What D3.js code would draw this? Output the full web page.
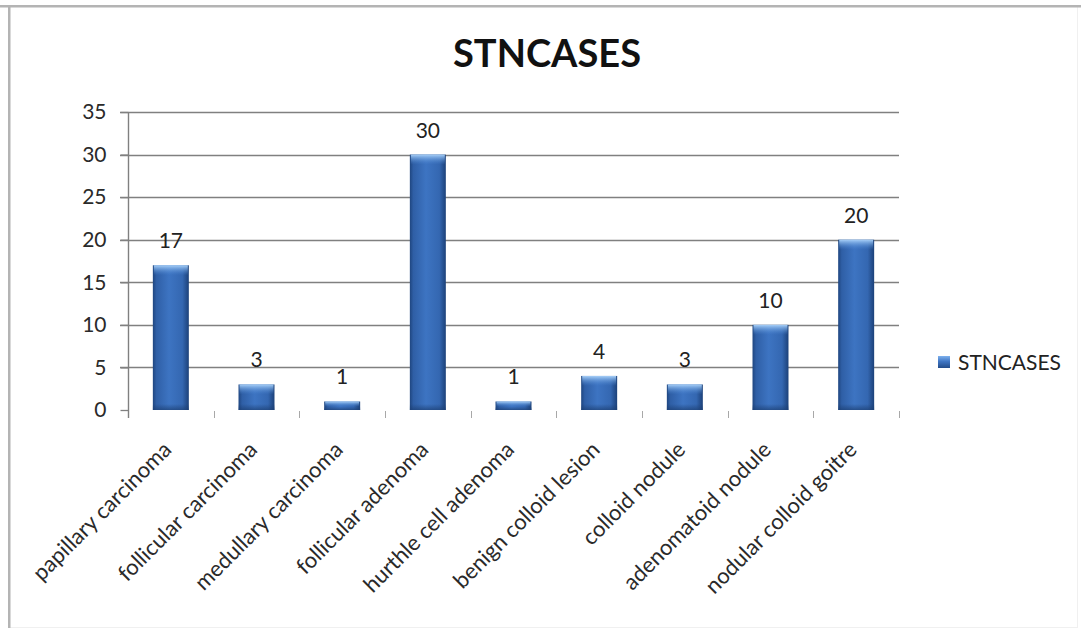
<!DOCTYPE html>
<html>
<head>
<meta charset="utf-8">
<script src="https://cdn.jsdelivr.net/npm/d3@7"></script>
<style>
  html, body { margin: 0; padding: 0; background: #fff; }
  svg { display: block; }
  text { font-family: Lato, "Noto Sans", "Liberation Sans", sans-serif; }
</style>
</head>
<body>
<svg id="chart" width="1081" height="635"></svg>
<script>
// Thyroid lesion case counts
const categories = [
  "papillary carcinoma", "follicular carcinoma", "medullary carcinoma",
  "follicular adenoma", "hurthle cell adenoma", "benign colloid lesion",
  "colloid nodule", "adenomatoid nodule", "nodular colloid goitre"
];
const values = [17, 3, 1, 30, 1, 4, 3, 10, 20];
const yTicks = [0, 5, 10, 15, 20, 25, 30, 35];
const seriesName = "STNCASES";
const chartTitle = "STNCASES";

const W = 1081, H = 635;
const plot = { left: 128, right: 899, top: 112, bottom: 410 };

const svg = d3.select("#chart");

// Gradients for the bevelled bars
const defs = svg.append("defs");
const side = defs.append("linearGradient").attr("id", "barSide")
  .attr("x1", "0%").attr("x2", "100%").attr("y1", "0%").attr("y2", "0%");
[["0%", "#1f4680"], ["10%", "#2f5fa6"], ["45%", "#3d74c2"], ["82%", "#3467b1"], ["100%", "#1c4179"]]
  .forEach(([o, c]) => side.append("stop").attr("offset", o).attr("stop-color", c));
const cap = defs.append("linearGradient").attr("id", "barCap")
  .attr("x1", "0%").attr("x2", "0%").attr("y1", "0%").attr("y2", "100%");
[["0%", "#a8d0f8", 1], ["100%", "#4a86d4", 0]]
  .forEach(([o, c, a]) => cap.append("stop").attr("offset", o).attr("stop-color", c).attr("stop-opacity", a));
const base = defs.append("linearGradient").attr("id", "barBase")
  .attr("x1", "0%").attr("x2", "0%").attr("y1", "0%").attr("y2", "100%");
[["0%", "#1c3f73", 0], ["100%", "#1c3f73", 0.7]]
  .forEach(([o, c, a]) => base.append("stop").attr("offset", o).attr("stop-color", c).attr("stop-opacity", a));
const legendGrad = defs.append("linearGradient").attr("id", "legendGrad")
  .attr("x1", "0%").attr("x2", "0%").attr("y1", "0%").attr("y2", "100%");
[["0%", "#7fb2ee"], ["45%", "#3f76c4"], ["100%", "#224c8a"]]
  .forEach(([o, c]) => legendGrad.append("stop").attr("offset", o).attr("stop-color", c));

// Frame
svg.append("rect").attr("x", W - 4).attr("y", 6).attr("width", 1).attr("height", H - 14)
  .attr("fill", "#f0f0f0");
svg.append("rect").attr("x", 9).attr("y", H - 8).attr("width", W - 12).attr("height", 1)
  .attr("fill", "#f0f0f0");
svg.append("rect").attr("x", 0).attr("y", 5).attr("width", W).attr("height", 2.5)
  .attr("fill", "#b4b4b4");
svg.append("rect").attr("x", 8).attr("y", 5).attr("width", 2.5).attr("height", H - 12)
  .attr("fill", "#b4b4b4");

// Scales
const x = d3.scaleBand().domain(categories)
  .range([plot.left, plot.right]).paddingInner(0.58).paddingOuter(0.29);
const y = d3.scaleLinear().domain([0, 35]).range([plot.bottom, plot.top]);

// Title
svg.append("text").attr("x", 547).attr("y", 67)
  .attr("text-anchor", "middle").attr("font-weight", "bold")
  .attr("font-size", 38).attr("fill", "#111").text(chartTitle);

// Gridlines (zero line omitted)
svg.append("g").selectAll("line").data(yTicks.filter(t => t > 0)).join("line")
  .attr("x1", plot.left - 8).attr("x2", plot.right)
  .attr("y1", d => Math.round(y(d)) + 0.5).attr("y2", d => Math.round(y(d)) + 0.5)
  .attr("stroke", "#808080").attr("stroke-width", 1.3);

// Y axis
const yAxis = d3.axisLeft(y).tickValues(yTicks).tickSize(8).tickPadding(14);
const gy = svg.append("g").attr("transform", `translate(${plot.left + 0.5},0)`).call(yAxis);
gy.select(".domain").attr("d", `M0,${plot.top}V${plot.bottom + 8}`).attr("stroke", "#808080").attr("stroke-width", 1.4);
gy.selectAll(".tick line").attr("stroke", "#808080").attr("stroke-width", 1.3);
gy.selectAll(".tick text").attr("font-size", 21).attr("fill", "#2a2a2a")
  .attr("font-family", "Lato, 'Noto Sans', sans-serif");

// Category boundary ticks
const step = x.step();
const bounds = d3.range(1, categories.length + 1).map(i => plot.left + i * step);
svg.append("g").selectAll("line").data(bounds).join("line")
  .attr("x1", d => Math.round(d) + 0.5).attr("x2", d => Math.round(d) + 0.5)
  .attr("y1", plot.bottom + 1).attr("y2", plot.bottom + 8)
  .attr("stroke", "#a8a8a8").attr("stroke-width", 1);

// Bars
const bars = svg.append("g").selectAll("g").data(categories.map((c, i) => ({ c, v: values[i] })))
  .join("g");
bars.append("rect")
  .attr("x", d => x(d.c)).attr("y", d => y(d.v))
  .attr("width", x.bandwidth()).attr("height", d => y(0) - y(d.v))
  .attr("fill", "url(#barSide)");
bars.append("rect")
  .attr("x", d => x(d.c) + 1).attr("y", d => y(d.v))
  .attr("width", x.bandwidth() - 2).attr("height", d => Math.min(10, (y(0) - y(d.v)) * 0.6))
  .attr("fill", "url(#barCap)");
bars.append("rect")
  .attr("x", d => x(d.c)).attr("y", d => y(0) - Math.min(6, (y(0) - y(d.v)) * 0.4))
  .attr("width", x.bandwidth()).attr("height", d => Math.min(6, (y(0) - y(d.v)) * 0.4))
  .attr("fill", "url(#barBase)");

// Value labels
bars.append("text")
  .attr("x", d => x(d.c) + x.bandwidth() / 2).attr("y", d => y(d.v) - 17)
  .attr("text-anchor", "middle").attr("font-size", 21).attr("fill", "#222")
  .text(d => d.v);

// Category labels, rotated
svg.append("g").selectAll("text").data(categories).join("text")
  .attr("transform", d => `translate(${x(d) + x.bandwidth() / 2 + 2},${plot.bottom + 41}) rotate(-45)`)
  .attr("text-anchor", "end").attr("font-size", 22).attr("fill", "#2a2a2a")
  .text(d => d);

// Legend
const lg = svg.append("g").attr("transform", "translate(938,356)");
lg.append("rect").attr("width", 12).attr("height", 12).attr("fill", "url(#legendGrad)");
lg.append("text").attr("x", 20).attr("y", 6).attr("dy", "0.36em")
  .attr("font-size", 21).attr("fill", "#222").text(seriesName);
</script>
</body>
</html>
